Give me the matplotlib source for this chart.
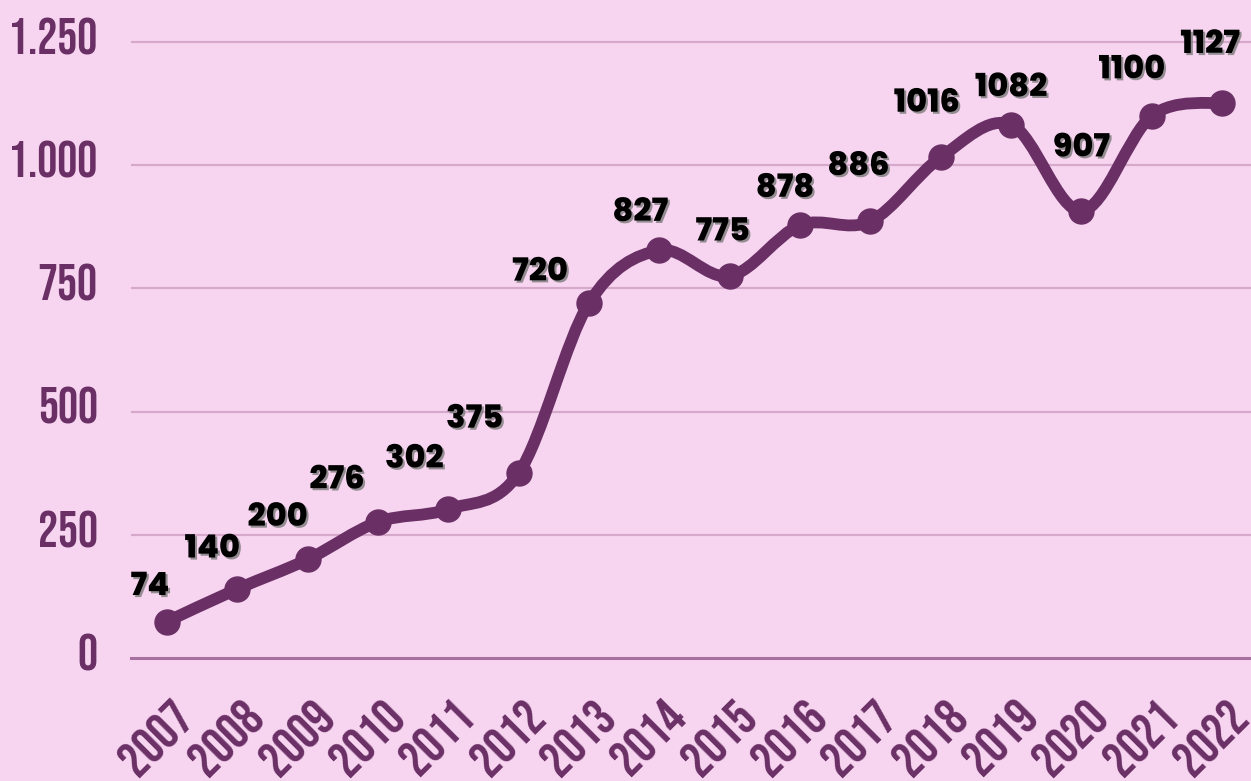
import numpy as np
import matplotlib.pyplot as plt
import matplotlib.patheffects as pe
from matplotlib.path import Path
from matplotlib.patches import PathPatch
from matplotlib.transforms import ScaledTranslation
from matplotlib import font_manager

# data
years = [2007, 2008, 2009, 2010, 2011, 2012, 2013, 2014,
         2015, 2016, 2017, 2018, 2019, 2020, 2021, 2022]
values = [74, 140, 200, 276, 302, 375, 720, 827,
          775, 878, 886, 1016, 1082, 907, 1100, 1127]
ytick_vals = [0, 250, 500, 750, 1000, 1250]
ytick_labels = ["0", "250", "500", "750", "1.000", "1.250"]

# label offsets in pixels (dx, dy) from each point
label_off = [(-17, 34), (-25, 39), (-30, 41), (-41, 41), (-34, 49), (-44, 53),
             (-49, 30), (-19, 37), (-7, 43), (-15, 36), (-12, 54), (-14, 53),
             (0, 36), (0, 62), (-20, 45), (-12, 57)]

bg = "#f7d5f0"
purple = "#6a3066"

names = {f.name for f in font_manager.fontManager.ttflist}
def pick(*cands):
    for c in cands:
        if c in names:
            return c
    return "DejaVu Sans"

tick_font = pick("Bebas Neue", "Oswald", "Fjalla One", "Antonio", "Archivo Narrow")
lab_font = pick("Poppins", "Montserrat", "Lato")

fig = plt.figure(figsize=(12.51, 7.81), dpi=100, facecolor=bg)
ax = fig.add_axes([131 / 1251, (781 - 658) / 781, 1 - 131 / 1251, 658 / 781])
ax.set_facecolor(bg)

ax.set_xlim(2006.49, 2022.41)
ax.set_ylim(0, 1335)

# gridlines
for v in ytick_vals:
    if v == 0:
        ax.axhline(v, color="#a8709f", lw=2.2, zorder=1, clip_on=False)
    else:
        ax.axhline(v, color="#d6a8cc", lw=1.6, zorder=1)

# smooth line (catmull-rom as cubic bezier)
pts = np.column_stack([years, values]).astype(float)
ext = np.vstack([pts[0], pts, pts[-1]])
verts = [tuple(pts[0])]
codes = [Path.MOVETO]
for i in range(1, len(ext) - 2):
    p0, p1, p2, p3 = ext[i - 1], ext[i], ext[i + 1], ext[i + 2]
    c1 = p1 + (p2 - p0) / 6
    c2 = p2 - (p3 - p1) / 6
    verts += [tuple(c1), tuple(c2), tuple(p2)]
    codes += [Path.CURVE4] * 3
ax.add_patch(PathPatch(Path(verts, codes), fill=False, edgecolor=purple,
                       lw=8.5, capstyle="round", joinstyle="round", zorder=3))
ax.plot(years, values, "o", color=purple, markersize=18, zorder=4, clip_on=False)

for x, y, (dx, dy) in zip(years, values, label_off):
    ax.annotate(str(y), (x, y), xytext=(dx * 0.72, dy * 0.72), textcoords="offset points",
                ha="center", va="center", fontsize=23, fontweight=800,
                family=lab_font, color="black", zorder=5,
                path_effects=[pe.SimplePatchShadow(offset=(1.5, -1.5), shadow_rgbFace="#7a7a7a", alpha=0.8),
                              pe.Normal()])

ax.set_yticks(ytick_vals)
ax.set_yticklabels(ytick_labels, fontsize=36, family=tick_font, color=purple)
ax.set_xticks(years)
ax.set_xticklabels([str(y) for y in years], rotation=45, ha="center", va="top",
                   fontsize=37, family=tick_font, color=purple)
ax.tick_params(axis="y", length=0, pad=24)
ax.tick_params(axis="x", length=0, pad=26)
for lab in ax.get_xticklabels():
    lab.set_transform(lab.get_transform() + ScaledTranslation(-12 / 100, 0, fig.dpi_scale_trans))
for lab in ax.get_yticklabels():
    lab.set_transform(lab.get_transform() + ScaledTranslation(0, 6 / 100, fig.dpi_scale_trans))

for s in ax.spines.values():
    s.set_visible(False)

fig.savefig("out.png", dpi=100, facecolor=bg)
